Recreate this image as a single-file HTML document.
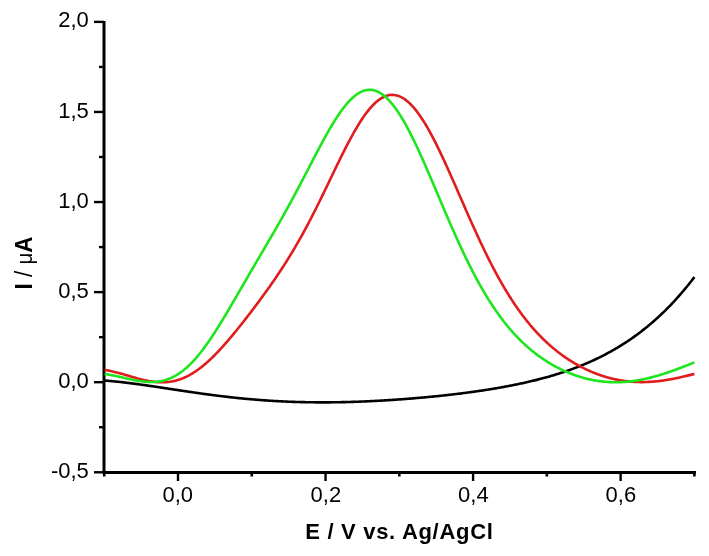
<!DOCTYPE html>
<html><head><meta charset="utf-8"><style>
html,body{margin:0;padding:0;background:#fff;}
svg{display:block;}
.t{stroke:#000;stroke-width:2.4;}
.tm{stroke:#000;stroke-width:2.6;}
.ax{stroke:#000;stroke-width:3;fill:none;}
text{font-family:"Liberation Sans",Arial,sans-serif;fill:#000;}
.yl{font-size:22px;text-anchor:end;}
.xl{font-size:22px;text-anchor:middle;}
.tt{font-size:22px;font-weight:bold;}
.c{fill:none;stroke-width:2.6;stroke-linejoin:round;stroke-linecap:butt;}
</style></head><body>
<svg width="709" height="556" viewBox="0 0 709 556">
<rect width="709" height="556" fill="#fff"/>
<line x1="94" y1="21.88" x2="104.0" y2="21.88" class="t"/>
<line x1="94" y1="111.96" x2="104.0" y2="111.96" class="t"/>
<line x1="94" y1="202.04" x2="104.0" y2="202.04" class="t"/>
<line x1="94" y1="292.12" x2="104.0" y2="292.12" class="t"/>
<line x1="94" y1="382.20" x2="104.0" y2="382.20" class="t"/>
<line x1="94" y1="472.28" x2="104.0" y2="472.28" class="t"/>
<line x1="99" y1="66.92" x2="104.0" y2="66.92" class="t"/>
<line x1="99" y1="157.00" x2="104.0" y2="157.00" class="t"/>
<line x1="99" y1="247.08" x2="104.0" y2="247.08" class="t"/>
<line x1="99" y1="337.16" x2="104.0" y2="337.16" class="t"/>
<line x1="99" y1="427.24" x2="104.0" y2="427.24" class="t"/>
<line x1="178.00" y1="472.4" x2="178.00" y2="481" class="t"/>
<line x1="325.54" y1="472.4" x2="325.54" y2="481" class="t"/>
<line x1="473.08" y1="472.4" x2="473.08" y2="481" class="t"/>
<line x1="620.62" y1="472.4" x2="620.62" y2="481" class="t"/>
<line x1="104.23" y1="472.4" x2="104.23" y2="476.5" class="tm"/>
<line x1="251.77" y1="472.4" x2="251.77" y2="476.5" class="tm"/>
<line x1="399.31" y1="472.4" x2="399.31" y2="476.5" class="tm"/>
<line x1="546.85" y1="472.4" x2="546.85" y2="476.5" class="tm"/>
<line x1="694.39" y1="472.4" x2="694.39" y2="476.5" class="tm"/>
<path class="ax" d="M104.0 21 L104.0 472.4 L696 472.4"/>
<text x="88.8" y="27.48" class="yl">2,0</text>
<text x="88.8" y="117.56" class="yl">1,5</text>
<text x="88.8" y="207.64" class="yl">1,0</text>
<text x="88.8" y="297.72" class="yl">0,5</text>
<text x="88.8" y="387.80" class="yl">0,0</text>
<text x="88.8" y="477.88" class="yl">-0,5</text>
<text x="177.80" y="502" class="xl">0,0</text>
<text x="325.84" y="502" class="xl">0,2</text>
<text x="473.38" y="502" class="xl">0,4</text>
<text x="620.92" y="502" class="xl">0,6</text>
<path class="c" stroke="#000" d="M104.6 380.59 L105.6 380.66 L106.6 380.73 L107.6 380.81 L108.6 380.89 L109.6 380.97 L110.6 381.06 L111.6 381.15 L112.6 381.24 L113.6 381.33 L114.6 381.43 L115.6 381.52 L116.6 381.62 L117.6 381.73 L118.6 381.83 L119.6 381.94 L120.6 382.05 L121.6 382.16 L122.6 382.27 L123.6 382.38 L124.6 382.50 L125.6 382.62 L126.6 382.73 L127.6 382.86 L128.6 382.98 L129.6 383.10 L130.6 383.23 L131.6 383.36 L132.6 383.48 L133.6 383.61 L134.6 383.75 L135.6 383.88 L136.6 384.01 L137.6 384.15 L138.6 384.28 L139.6 384.42 L140.6 384.56 L141.6 384.70 L142.6 384.84 L143.6 384.98 L144.6 385.12 L145.6 385.26 L146.6 385.41 L147.6 385.55 L148.6 385.70 L149.6 385.84 L150.6 385.99 L151.6 386.14 L152.6 386.28 L153.6 386.43 L154.6 386.58 L155.6 386.73 L156.6 386.88 L157.6 387.03 L158.6 387.18 L159.6 387.33 L160.6 387.48 L161.6 387.63 L162.6 387.78 L163.6 387.94 L164.6 388.09 L165.6 388.24 L166.6 388.39 L167.6 388.54 L168.6 388.70 L169.6 388.85 L170.6 389.00 L171.6 389.15 L172.6 389.31 L173.6 389.46 L174.6 389.61 L175.6 389.76 L176.6 389.91 L177.6 390.06 L178.6 390.22 L179.6 390.37 L180.6 390.52 L181.6 390.67 L182.6 390.82 L183.6 390.97 L184.6 391.12 L185.6 391.26 L186.6 391.41 L187.6 391.56 L188.6 391.71 L189.6 391.85 L190.6 392.00 L191.6 392.15 L192.6 392.29 L193.6 392.44 L194.6 392.58 L195.6 392.72 L196.6 392.87 L197.6 393.01 L198.6 393.15 L199.6 393.29 L200.6 393.43 L201.6 393.57 L202.6 393.71 L203.6 393.85 L204.6 393.99 L205.6 394.12 L206.6 394.26 L207.6 394.39 L208.6 394.53 L209.6 394.66 L210.6 394.79 L211.6 394.92 L212.6 395.05 L213.6 395.18 L214.6 395.31 L215.6 395.44 L216.6 395.57 L217.6 395.69 L218.6 395.82 L219.6 395.94 L220.6 396.06 L221.6 396.18 L222.6 396.30 L223.6 396.42 L224.6 396.54 L225.6 396.66 L226.6 396.78 L227.6 396.89 L228.6 397.01 L229.6 397.12 L230.6 397.23 L231.6 397.34 L232.6 397.45 L233.6 397.56 L234.6 397.67 L235.6 397.78 L236.6 397.88 L237.6 397.99 L238.6 398.09 L239.6 398.19 L240.6 398.29 L241.6 398.39 L242.6 398.49 L243.6 398.59 L244.6 398.68 L245.6 398.78 L246.6 398.87 L247.6 398.96 L248.6 399.06 L249.6 399.15 L250.6 399.23 L251.6 399.32 L252.6 399.41 L253.6 399.49 L254.6 399.58 L255.6 399.66 L256.6 399.74 L257.6 399.82 L258.6 399.90 L259.6 399.98 L260.6 400.05 L261.6 400.13 L262.6 400.20 L263.6 400.28 L264.6 400.35 L265.6 400.42 L266.6 400.49 L267.6 400.55 L268.6 400.62 L269.6 400.69 L270.6 400.75 L271.6 400.81 L272.6 400.87 L273.6 400.93 L274.6 400.99 L275.6 401.05 L276.6 401.10 L277.6 401.16 L278.6 401.21 L279.6 401.27 L280.6 401.32 L281.6 401.37 L282.6 401.42 L283.6 401.46 L284.6 401.51 L285.6 401.55 L286.6 401.60 L287.6 401.64 L288.6 401.68 L289.6 401.72 L290.6 401.76 L291.6 401.80 L292.6 401.83 L293.6 401.87 L294.6 401.90 L295.6 401.93 L296.6 401.97 L297.6 402.00 L298.6 402.02 L299.6 402.05 L300.6 402.08 L301.6 402.10 L302.6 402.13 L303.6 402.15 L304.6 402.17 L305.6 402.19 L306.6 402.21 L307.6 402.23 L308.6 402.25 L309.6 402.26 L310.6 402.28 L311.6 402.29 L312.6 402.30 L313.6 402.31 L314.6 402.32 L315.6 402.33 L316.6 402.34 L317.6 402.35 L318.6 402.35 L319.6 402.35 L320.6 402.36 L321.6 402.36 L322.6 402.36 L323.6 402.36 L324.6 402.36 L325.6 402.36 L326.6 402.35 L327.6 402.35 L328.6 402.34 L329.6 402.33 L330.6 402.33 L331.6 402.32 L332.6 402.31 L333.6 402.29 L334.6 402.28 L335.6 402.27 L336.6 402.25 L337.6 402.24 L338.6 402.22 L339.6 402.20 L340.6 402.19 L341.6 402.17 L342.6 402.15 L343.6 402.12 L344.6 402.10 L345.6 402.08 L346.6 402.05 L347.6 402.03 L348.6 402.00 L349.6 401.97 L350.6 401.94 L351.6 401.91 L352.6 401.88 L353.6 401.85 L354.6 401.82 L355.6 401.78 L356.6 401.75 L357.6 401.71 L358.6 401.68 L359.6 401.64 L360.6 401.60 L361.6 401.56 L362.6 401.52 L363.6 401.48 L364.6 401.44 L365.6 401.40 L366.6 401.35 L367.6 401.31 L368.6 401.26 L369.6 401.22 L370.6 401.17 L371.6 401.12 L372.6 401.07 L373.6 401.02 L374.6 400.97 L375.6 400.92 L376.6 400.87 L377.6 400.81 L378.6 400.76 L379.6 400.70 L380.6 400.65 L381.6 400.59 L382.6 400.53 L383.6 400.47 L384.6 400.41 L385.6 400.35 L386.6 400.29 L387.6 400.23 L388.6 400.17 L389.6 400.10 L390.6 400.04 L391.6 399.97 L392.6 399.91 L393.6 399.84 L394.6 399.77 L395.6 399.70 L396.6 399.63 L397.6 399.56 L398.6 399.49 L399.6 399.42 L400.6 399.35 L401.6 399.27 L402.6 399.20 L403.6 399.12 L404.6 399.05 L405.6 398.97 L406.6 398.89 L407.6 398.82 L408.6 398.74 L409.6 398.66 L410.6 398.58 L411.6 398.49 L412.6 398.41 L413.6 398.33 L414.6 398.24 L415.6 398.16 L416.6 398.07 L417.6 397.99 L418.6 397.90 L419.6 397.81 L420.6 397.72 L421.6 397.63 L422.6 397.54 L423.6 397.45 L424.6 397.36 L425.6 397.27 L426.6 397.17 L427.6 397.08 L428.6 396.98 L429.6 396.89 L430.6 396.79 L431.6 396.69 L432.6 396.59 L433.6 396.49 L434.6 396.39 L435.6 396.29 L436.6 396.19 L437.6 396.09 L438.6 395.98 L439.6 395.88 L440.6 395.77 L441.6 395.67 L442.6 395.56 L443.6 395.45 L444.6 395.34 L445.6 395.23 L446.6 395.12 L447.6 395.01 L448.6 394.89 L449.6 394.78 L450.6 394.67 L451.6 394.55 L452.6 394.43 L453.6 394.31 L454.6 394.20 L455.6 394.08 L456.6 393.96 L457.6 393.83 L458.6 393.71 L459.6 393.59 L460.6 393.46 L461.6 393.34 L462.6 393.21 L463.6 393.08 L464.6 392.95 L465.6 392.82 L466.6 392.69 L467.6 392.56 L468.6 392.43 L469.6 392.29 L470.6 392.16 L471.6 392.02 L472.6 391.88 L473.6 391.74 L474.6 391.60 L475.6 391.46 L476.6 391.32 L477.6 391.18 L478.6 391.03 L479.6 390.88 L480.6 390.74 L481.6 390.59 L482.6 390.44 L483.6 390.29 L484.6 390.13 L485.6 389.98 L486.6 389.82 L487.6 389.67 L488.6 389.51 L489.6 389.35 L490.6 389.19 L491.6 389.02 L492.6 388.86 L493.6 388.70 L494.6 388.53 L495.6 388.36 L496.6 388.19 L497.6 388.02 L498.6 387.84 L499.6 387.67 L500.6 387.49 L501.6 387.32 L502.6 387.14 L503.6 386.95 L504.6 386.77 L505.6 386.59 L506.6 386.40 L507.6 386.21 L508.6 386.02 L509.6 385.83 L510.6 385.64 L511.6 385.44 L512.6 385.24 L513.6 385.04 L514.6 384.84 L515.6 384.64 L516.6 384.43 L517.6 384.23 L518.6 384.02 L519.6 383.81 L520.6 383.59 L521.6 383.38 L522.6 383.16 L523.6 382.94 L524.6 382.72 L525.6 382.49 L526.6 382.27 L527.6 382.04 L528.6 381.81 L529.6 381.58 L530.6 381.34 L531.6 381.10 L532.6 380.86 L533.6 380.62 L534.6 380.37 L535.6 380.13 L536.6 379.88 L537.6 379.62 L538.6 379.37 L539.6 379.11 L540.6 378.85 L541.6 378.58 L542.6 378.32 L543.6 378.05 L544.6 377.78 L545.6 377.50 L546.6 377.23 L547.6 376.95 L548.6 376.66 L549.6 376.38 L550.6 376.09 L551.6 375.79 L552.6 375.50 L553.6 375.20 L554.6 374.90 L555.6 374.59 L556.6 374.28 L557.6 373.97 L558.6 373.66 L559.6 373.34 L560.6 373.02 L561.6 372.69 L562.6 372.36 L563.6 372.03 L564.6 371.70 L565.6 371.36 L566.6 371.01 L567.6 370.67 L568.6 370.32 L569.6 369.96 L570.6 369.60 L571.6 369.24 L572.6 368.88 L573.6 368.51 L574.6 368.13 L575.6 367.75 L576.6 367.37 L577.6 366.99 L578.6 366.60 L579.6 366.20 L580.6 365.80 L581.6 365.40 L582.6 364.99 L583.6 364.58 L584.6 364.16 L585.6 363.74 L586.6 363.32 L587.6 362.89 L588.6 362.45 L589.6 362.01 L590.6 361.57 L591.6 361.12 L592.6 360.66 L593.6 360.20 L594.6 359.74 L595.6 359.27 L596.6 358.80 L597.6 358.32 L598.6 357.83 L599.6 357.34 L600.6 356.85 L601.6 356.35 L602.6 355.84 L603.6 355.33 L604.6 354.81 L605.6 354.29 L606.6 353.76 L607.6 353.22 L608.6 352.68 L609.6 352.14 L610.6 351.59 L611.6 351.03 L612.6 350.46 L613.6 349.89 L614.6 349.32 L615.6 348.73 L616.6 348.14 L617.6 347.55 L618.6 346.95 L619.6 346.34 L620.6 345.72 L621.6 345.10 L622.6 344.47 L623.6 343.84 L624.6 343.20 L625.6 342.55 L626.6 341.89 L627.6 341.23 L628.6 340.56 L629.6 339.88 L630.6 339.20 L631.6 338.51 L632.6 337.81 L633.6 337.10 L634.6 336.39 L635.6 335.67 L636.6 334.94 L637.6 334.20 L638.6 333.46 L639.6 332.71 L640.6 331.94 L641.6 331.18 L642.6 330.40 L643.6 329.61 L644.6 328.82 L645.6 328.02 L646.6 327.21 L647.6 326.39 L648.6 325.56 L649.6 324.73 L650.6 323.88 L651.6 323.03 L652.6 322.17 L653.6 321.30 L654.6 320.42 L655.6 319.53 L656.6 318.63 L657.6 317.72 L658.6 316.81 L659.6 315.88 L660.6 314.94 L661.6 314.00 L662.6 313.04 L663.6 312.08 L664.6 311.10 L665.6 310.12 L666.6 309.12 L667.6 308.11 L668.6 307.10 L669.6 306.07 L670.6 305.04 L671.6 303.99 L672.6 302.93 L673.6 301.86 L674.6 300.78 L675.6 299.69 L676.6 298.59 L677.6 297.48 L678.6 296.36 L679.6 295.22 L680.6 294.08 L681.6 292.92 L682.6 291.75 L683.6 290.57 L684.6 289.38 L685.6 288.18 L686.6 286.96 L687.6 285.73 L688.6 284.49 L689.6 283.24 L690.6 281.97 L691.6 280.70 L692.6 279.41 L693.6 278.11 L694.4 277.06"/>
<path class="c" stroke="#e01c1c" d="M104.6 369.86 L105.6 370.02 L106.6 370.19 L107.6 370.37 L108.6 370.56 L109.6 370.77 L110.6 370.98 L111.6 371.20 L112.6 371.42 L113.6 371.66 L114.6 371.91 L115.6 372.16 L116.6 372.41 L117.6 372.68 L118.6 372.95 L119.6 373.22 L120.6 373.50 L121.6 373.78 L122.6 374.07 L123.6 374.36 L124.6 374.65 L125.6 374.94 L126.6 375.24 L127.6 375.53 L128.6 375.83 L129.6 376.12 L130.6 376.42 L131.6 376.71 L132.6 377.00 L133.6 377.29 L134.6 377.58 L135.6 377.86 L136.6 378.14 L137.6 378.42 L138.6 378.68 L139.6 378.95 L140.6 379.21 L141.6 379.46 L142.6 379.70 L143.6 379.94 L144.6 380.17 L145.6 380.39 L146.6 380.60 L147.6 380.80 L148.6 380.99 L149.6 381.17 L150.6 381.33 L151.6 381.49 L152.6 381.64 L153.6 381.77 L154.6 381.89 L155.6 381.99 L156.6 382.08 L157.6 382.16 L158.6 382.22 L159.6 382.27 L160.6 382.30 L161.6 382.31 L162.6 382.31 L163.6 382.29 L164.6 382.26 L165.6 382.21 L166.6 382.13 L167.6 382.04 L168.6 381.94 L169.6 381.81 L170.6 381.67 L171.6 381.50 L172.6 381.32 L173.6 381.11 L174.6 380.89 L175.6 380.64 L176.6 380.38 L177.6 380.09 L178.6 379.79 L179.6 379.46 L180.6 379.11 L181.6 378.74 L182.6 378.35 L183.6 377.94 L184.6 377.51 L185.6 377.06 L186.6 376.58 L187.6 376.09 L188.6 375.57 L189.6 375.03 L190.6 374.47 L191.6 373.89 L192.6 373.29 L193.6 372.67 L194.6 372.03 L195.6 371.37 L196.6 370.68 L197.6 369.98 L198.6 369.26 L199.6 368.52 L200.6 367.76 L201.6 366.97 L202.6 366.18 L203.6 365.36 L204.6 364.52 L205.6 363.67 L206.6 362.79 L207.6 361.90 L208.6 361.00 L209.6 360.07 L210.6 359.13 L211.6 358.18 L212.6 357.21 L213.6 356.22 L214.6 355.22 L215.6 354.20 L216.6 353.17 L217.6 352.13 L218.6 351.07 L219.6 350.01 L220.6 348.92 L221.6 347.83 L222.6 346.72 L223.6 345.61 L224.6 344.48 L225.6 343.34 L226.6 342.19 L227.6 341.03 L228.6 339.87 L229.6 338.69 L230.6 337.50 L231.6 336.31 L232.6 335.11 L233.6 333.90 L234.6 332.68 L235.6 331.46 L236.6 330.23 L237.6 328.99 L238.6 327.74 L239.6 326.49 L240.6 325.24 L241.6 323.98 L242.6 322.71 L243.6 321.44 L244.6 320.16 L245.6 318.88 L246.6 317.59 L247.6 316.30 L248.6 315.00 L249.6 313.70 L250.6 312.40 L251.6 311.09 L252.6 309.77 L253.6 308.45 L254.6 307.13 L255.6 305.80 L256.6 304.47 L257.6 303.13 L258.6 301.78 L259.6 300.44 L260.6 299.08 L261.6 297.72 L262.6 296.36 L263.6 294.99 L264.6 293.61 L265.6 292.23 L266.6 290.84 L267.6 289.44 L268.6 288.04 L269.6 286.63 L270.6 285.21 L271.6 283.79 L272.6 282.35 L273.6 280.91 L274.6 279.46 L275.6 278.00 L276.6 276.53 L277.6 275.05 L278.6 273.56 L279.6 272.06 L280.6 270.55 L281.6 269.03 L282.6 267.50 L283.6 265.96 L284.6 264.40 L285.6 262.83 L286.6 261.25 L287.6 259.66 L288.6 258.05 L289.6 256.43 L290.6 254.80 L291.6 253.15 L292.6 251.49 L293.6 249.81 L294.6 248.12 L295.6 246.42 L296.6 244.70 L297.6 242.96 L298.6 241.21 L299.6 239.45 L300.6 237.67 L301.6 235.88 L302.6 234.07 L303.6 232.25 L304.6 230.41 L305.6 228.56 L306.6 226.69 L307.6 224.81 L308.6 222.92 L309.6 221.01 L310.6 219.09 L311.6 217.15 L312.6 215.20 L313.6 213.24 L314.6 211.27 L315.6 209.29 L316.6 207.29 L317.6 205.29 L318.6 203.27 L319.6 201.24 L320.6 199.21 L321.6 197.17 L322.6 195.12 L323.6 193.06 L324.6 191.00 L325.6 188.93 L326.6 186.86 L327.6 184.78 L328.6 182.71 L329.6 180.63 L330.6 178.55 L331.6 176.47 L332.6 174.39 L333.6 172.31 L334.6 170.24 L335.6 168.17 L336.6 166.10 L337.6 164.05 L338.6 162.00 L339.6 159.96 L340.6 157.92 L341.6 155.91 L342.6 153.90 L343.6 151.90 L344.6 149.93 L345.6 147.96 L346.6 146.02 L347.6 144.09 L348.6 142.18 L349.6 140.30 L350.6 138.43 L351.6 136.59 L352.6 134.78 L353.6 132.99 L354.6 131.23 L355.6 129.49 L356.6 127.79 L357.6 126.11 L358.6 124.47 L359.6 122.86 L360.6 121.29 L361.6 119.75 L362.6 118.25 L363.6 116.79 L364.6 115.37 L365.6 113.98 L366.6 112.64 L367.6 111.34 L368.6 110.08 L369.6 108.87 L370.6 107.70 L371.6 106.58 L372.6 105.50 L373.6 104.47 L374.6 103.50 L375.6 102.57 L376.6 101.69 L377.6 100.86 L378.6 100.08 L379.6 99.36 L380.6 98.68 L381.6 98.06 L382.6 97.50 L383.6 96.99 L384.6 96.53 L385.6 96.13 L386.6 95.78 L387.6 95.49 L388.6 95.26 L389.6 95.08 L390.6 94.96 L391.6 94.89 L392.6 94.89 L393.6 94.93 L394.6 95.04 L395.6 95.20 L396.6 95.42 L397.6 95.69 L398.6 96.02 L399.6 96.41 L400.6 96.85 L401.6 97.35 L402.6 97.90 L403.6 98.51 L404.6 99.17 L405.6 99.89 L406.6 100.66 L407.6 101.48 L408.6 102.35 L409.6 103.28 L410.6 104.26 L411.6 105.29 L412.6 106.37 L413.6 107.49 L414.6 108.67 L415.6 109.89 L416.6 111.16 L417.6 112.47 L418.6 113.83 L419.6 115.24 L420.6 116.69 L421.6 118.18 L422.6 119.71 L423.6 121.28 L424.6 122.89 L425.6 124.54 L426.6 126.22 L427.6 127.94 L428.6 129.70 L429.6 131.49 L430.6 133.31 L431.6 135.17 L432.6 137.06 L433.6 138.97 L434.6 140.91 L435.6 142.89 L436.6 144.88 L437.6 146.91 L438.6 148.95 L439.6 151.02 L440.6 153.11 L441.6 155.22 L442.6 157.35 L443.6 159.50 L444.6 161.66 L445.6 163.85 L446.6 166.04 L447.6 168.25 L448.6 170.47 L449.6 172.71 L450.6 174.95 L451.6 177.20 L452.6 179.46 L453.6 181.73 L454.6 184.01 L455.6 186.29 L456.6 188.57 L457.6 190.86 L458.6 193.15 L459.6 195.44 L460.6 197.73 L461.6 200.02 L462.6 202.31 L463.6 204.59 L464.6 206.88 L465.6 209.16 L466.6 211.43 L467.6 213.70 L468.6 215.96 L469.6 218.21 L470.6 220.46 L471.6 222.70 L472.6 224.93 L473.6 227.14 L474.6 229.35 L475.6 231.55 L476.6 233.73 L477.6 235.90 L478.6 238.06 L479.6 240.21 L480.6 242.34 L481.6 244.46 L482.6 246.56 L483.6 248.64 L484.6 250.71 L485.6 252.77 L486.6 254.80 L487.6 256.82 L488.6 258.83 L489.6 260.81 L490.6 262.78 L491.6 264.73 L492.6 266.66 L493.6 268.57 L494.6 270.46 L495.6 272.34 L496.6 274.19 L497.6 276.03 L498.6 277.84 L499.6 279.64 L500.6 281.41 L501.6 283.17 L502.6 284.90 L503.6 286.62 L504.6 288.31 L505.6 289.99 L506.6 291.64 L507.6 293.28 L508.6 294.89 L509.6 296.49 L510.6 298.06 L511.6 299.61 L512.6 301.15 L513.6 302.66 L514.6 304.16 L515.6 305.63 L516.6 307.09 L517.6 308.52 L518.6 309.94 L519.6 311.33 L520.6 312.71 L521.6 314.07 L522.6 315.41 L523.6 316.73 L524.6 318.03 L525.6 319.31 L526.6 320.58 L527.6 321.82 L528.6 323.05 L529.6 324.26 L530.6 325.46 L531.6 326.63 L532.6 327.79 L533.6 328.93 L534.6 330.06 L535.6 331.17 L536.6 332.26 L537.6 333.33 L538.6 334.39 L539.6 335.43 L540.6 336.46 L541.6 337.47 L542.6 338.47 L543.6 339.45 L544.6 340.42 L545.6 341.37 L546.6 342.31 L547.6 343.23 L548.6 344.14 L549.6 345.03 L550.6 345.91 L551.6 346.78 L552.6 347.63 L553.6 348.47 L554.6 349.30 L555.6 350.11 L556.6 350.91 L557.6 351.70 L558.6 352.47 L559.6 353.24 L560.6 353.99 L561.6 354.72 L562.6 355.45 L563.6 356.17 L564.6 356.87 L565.6 357.56 L566.6 358.24 L567.6 358.91 L568.6 359.57 L569.6 360.21 L570.6 360.85 L571.6 361.47 L572.6 362.09 L573.6 362.69 L574.6 363.28 L575.6 363.87 L576.6 364.44 L577.6 365.00 L578.6 365.55 L579.6 366.09 L580.6 366.62 L581.6 367.15 L582.6 367.66 L583.6 368.16 L584.6 368.65 L585.6 369.14 L586.6 369.61 L587.6 370.07 L588.6 370.53 L589.6 370.97 L590.6 371.41 L591.6 371.83 L592.6 372.25 L593.6 372.66 L594.6 373.06 L595.6 373.45 L596.6 373.83 L597.6 374.20 L598.6 374.56 L599.6 374.91 L600.6 375.26 L601.6 375.60 L602.6 375.92 L603.6 376.24 L604.6 376.55 L605.6 376.85 L606.6 377.14 L607.6 377.43 L608.6 377.70 L609.6 377.97 L610.6 378.22 L611.6 378.47 L612.6 378.71 L613.6 378.94 L614.6 379.17 L615.6 379.38 L616.6 379.59 L617.6 379.79 L618.6 379.98 L619.6 380.16 L620.6 380.33 L621.6 380.49 L622.6 380.65 L623.6 380.80 L624.6 380.94 L625.6 381.07 L626.6 381.19 L627.6 381.31 L628.6 381.41 L629.6 381.51 L630.6 381.60 L631.6 381.69 L632.6 381.76 L633.6 381.83 L634.6 381.89 L635.6 381.94 L636.6 381.98 L637.6 382.02 L638.6 382.05 L639.6 382.07 L640.6 382.08 L641.6 382.09 L642.6 382.09 L643.6 382.08 L644.6 382.06 L645.6 382.04 L646.6 382.00 L647.6 381.97 L648.6 381.92 L649.6 381.87 L650.6 381.81 L651.6 381.74 L652.6 381.67 L653.6 381.59 L654.6 381.50 L655.6 381.41 L656.6 381.31 L657.6 381.21 L658.6 381.10 L659.6 380.98 L660.6 380.85 L661.6 380.72 L662.6 380.59 L663.6 380.45 L664.6 380.30 L665.6 380.15 L666.6 379.99 L667.6 379.82 L668.6 379.65 L669.6 379.48 L670.6 379.30 L671.6 379.12 L672.6 378.93 L673.6 378.74 L674.6 378.54 L675.6 378.34 L676.6 378.13 L677.6 377.92 L678.6 377.71 L679.6 377.49 L680.6 377.27 L681.6 377.04 L682.6 376.81 L683.6 376.58 L684.6 376.34 L685.6 376.11 L686.6 375.87 L687.6 375.62 L688.6 375.38 L689.6 375.13 L690.6 374.88 L691.6 374.63 L692.6 374.38 L693.6 374.12 L694.4 373.92"/>
<path class="c" stroke="#1ee61e" d="M104.6 373.98 L105.6 374.13 L106.6 374.28 L107.6 374.45 L108.6 374.62 L109.6 374.79 L110.6 374.98 L111.6 375.17 L112.6 375.36 L113.6 375.56 L114.6 375.77 L115.6 375.98 L116.6 376.19 L117.6 376.41 L118.6 376.63 L119.6 376.86 L120.6 377.08 L121.6 377.31 L122.6 377.53 L123.6 377.76 L124.6 377.99 L125.6 378.22 L126.6 378.44 L127.6 378.67 L128.6 378.89 L129.6 379.11 L130.6 379.33 L131.6 379.54 L132.6 379.75 L133.6 379.95 L134.6 380.15 L135.6 380.34 L136.6 380.52 L137.6 380.70 L138.6 380.86 L139.6 381.02 L140.6 381.17 L141.6 381.31 L142.6 381.44 L143.6 381.55 L144.6 381.66 L145.6 381.75 L146.6 381.83 L147.6 381.89 L148.6 381.94 L149.6 381.98 L150.6 382.00 L151.6 382.00 L152.6 381.98 L153.6 381.95 L154.6 381.90 L155.6 381.83 L156.6 381.74 L157.6 381.63 L158.6 381.50 L159.6 381.35 L160.6 381.18 L161.6 380.98 L162.6 380.77 L163.6 380.52 L164.6 380.26 L165.6 379.97 L166.6 379.65 L167.6 379.32 L168.6 378.95 L169.6 378.56 L170.6 378.14 L171.6 377.70 L172.6 377.22 L173.6 376.72 L174.6 376.20 L175.6 375.64 L176.6 375.06 L177.6 374.45 L178.6 373.81 L179.6 373.14 L180.6 372.44 L181.6 371.72 L182.6 370.96 L183.6 370.18 L184.6 369.36 L185.6 368.52 L186.6 367.65 L187.6 366.75 L188.6 365.82 L189.6 364.86 L190.6 363.88 L191.6 362.86 L192.6 361.82 L193.6 360.75 L194.6 359.65 L195.6 358.53 L196.6 357.38 L197.6 356.20 L198.6 355.00 L199.6 353.77 L200.6 352.51 L201.6 351.24 L202.6 349.94 L203.6 348.61 L204.6 347.26 L205.6 345.89 L206.6 344.50 L207.6 343.09 L208.6 341.65 L209.6 340.20 L210.6 338.73 L211.6 337.24 L212.6 335.73 L213.6 334.21 L214.6 332.67 L215.6 331.11 L216.6 329.54 L217.6 327.95 L218.6 326.35 L219.6 324.74 L220.6 323.12 L221.6 321.49 L222.6 319.84 L223.6 318.19 L224.6 316.52 L225.6 314.85 L226.6 313.17 L227.6 311.48 L228.6 309.79 L229.6 308.09 L230.6 306.39 L231.6 304.68 L232.6 302.97 L233.6 301.25 L234.6 299.53 L235.6 297.81 L236.6 296.09 L237.6 294.36 L238.6 292.64 L239.6 290.91 L240.6 289.18 L241.6 287.45 L242.6 285.73 L243.6 284.00 L244.6 282.28 L245.6 280.55 L246.6 278.83 L247.6 277.11 L248.6 275.38 L249.6 273.66 L250.6 271.95 L251.6 270.23 L252.6 268.52 L253.6 266.80 L254.6 265.09 L255.6 263.38 L256.6 261.67 L257.6 259.96 L258.6 258.25 L259.6 256.55 L260.6 254.84 L261.6 253.13 L262.6 251.43 L263.6 249.72 L264.6 248.01 L265.6 246.30 L266.6 244.59 L267.6 242.88 L268.6 241.17 L269.6 239.45 L270.6 237.74 L271.6 236.01 L272.6 234.29 L273.6 232.56 L274.6 230.83 L275.6 229.09 L276.6 227.35 L277.6 225.61 L278.6 223.86 L279.6 222.10 L280.6 220.34 L281.6 218.57 L282.6 216.79 L283.6 215.01 L284.6 213.22 L285.6 211.43 L286.6 209.62 L287.6 207.81 L288.6 206.00 L289.6 204.17 L290.6 202.34 L291.6 200.50 L292.6 198.66 L293.6 196.80 L294.6 194.94 L295.6 193.07 L296.6 191.20 L297.6 189.32 L298.6 187.43 L299.6 185.54 L300.6 183.64 L301.6 181.74 L302.6 179.83 L303.6 177.91 L304.6 176.00 L305.6 174.08 L306.6 172.16 L307.6 170.23 L308.6 168.31 L309.6 166.38 L310.6 164.46 L311.6 162.53 L312.6 160.61 L313.6 158.69 L314.6 156.77 L315.6 154.86 L316.6 152.96 L317.6 151.06 L318.6 149.16 L319.6 147.28 L320.6 145.41 L321.6 143.55 L322.6 141.70 L323.6 139.86 L324.6 138.03 L325.6 136.23 L326.6 134.44 L327.6 132.66 L328.6 130.91 L329.6 129.18 L330.6 127.46 L331.6 125.78 L332.6 124.11 L333.6 122.47 L334.6 120.86 L335.6 119.27 L336.6 117.72 L337.6 116.19 L338.6 114.70 L339.6 113.24 L340.6 111.81 L341.6 110.42 L342.6 109.07 L343.6 107.75 L344.6 106.47 L345.6 105.23 L346.6 104.03 L347.6 102.88 L348.6 101.77 L349.6 100.70 L350.6 99.67 L351.6 98.70 L352.6 97.77 L353.6 96.88 L354.6 96.05 L355.6 95.26 L356.6 94.53 L357.6 93.85 L358.6 93.21 L359.6 92.63 L360.6 92.11 L361.6 91.63 L362.6 91.22 L363.6 90.85 L364.6 90.54 L365.6 90.29 L366.6 90.09 L367.6 89.95 L368.6 89.86 L369.6 89.83 L370.6 89.85 L371.6 89.94 L372.6 90.08 L373.6 90.27 L374.6 90.53 L375.6 90.84 L376.6 91.21 L377.6 91.63 L378.6 92.11 L379.6 92.64 L380.6 93.23 L381.6 93.88 L382.6 94.58 L383.6 95.34 L384.6 96.15 L385.6 97.01 L386.6 97.93 L387.6 98.90 L388.6 99.92 L389.6 100.99 L390.6 102.12 L391.6 103.29 L392.6 104.51 L393.6 105.78 L394.6 107.10 L395.6 108.46 L396.6 109.87 L397.6 111.33 L398.6 112.83 L399.6 114.37 L400.6 115.95 L401.6 117.58 L402.6 119.25 L403.6 120.95 L404.6 122.69 L405.6 124.47 L406.6 126.29 L407.6 128.14 L408.6 130.02 L409.6 131.94 L410.6 133.88 L411.6 135.86 L412.6 137.87 L413.6 139.90 L414.6 141.96 L415.6 144.05 L416.6 146.16 L417.6 148.30 L418.6 150.45 L419.6 152.63 L420.6 154.83 L421.6 157.04 L422.6 159.28 L423.6 161.53 L424.6 163.79 L425.6 166.07 L426.6 168.36 L427.6 170.66 L428.6 172.98 L429.6 175.30 L430.6 177.63 L431.6 179.97 L432.6 182.31 L433.6 184.66 L434.6 187.02 L435.6 189.38 L436.6 191.74 L437.6 194.10 L438.6 196.46 L439.6 198.82 L440.6 201.18 L441.6 203.53 L442.6 205.89 L443.6 208.24 L444.6 210.58 L445.6 212.92 L446.6 215.25 L447.6 217.57 L448.6 219.88 L449.6 222.19 L450.6 224.48 L451.6 226.77 L452.6 229.04 L453.6 231.30 L454.6 233.55 L455.6 235.79 L456.6 238.01 L457.6 240.22 L458.6 242.41 L459.6 244.59 L460.6 246.75 L461.6 248.90 L462.6 251.03 L463.6 253.14 L464.6 255.24 L465.6 257.31 L466.6 259.37 L467.6 261.41 L468.6 263.43 L469.6 265.43 L470.6 267.42 L471.6 269.38 L472.6 271.32 L473.6 273.25 L474.6 275.15 L475.6 277.03 L476.6 278.89 L477.6 280.73 L478.6 282.55 L479.6 284.35 L480.6 286.13 L481.6 287.88 L482.6 289.62 L483.6 291.33 L484.6 293.02 L485.6 294.70 L486.6 296.34 L487.6 297.97 L488.6 299.58 L489.6 301.17 L490.6 302.73 L491.6 304.28 L492.6 305.80 L493.6 307.30 L494.6 308.78 L495.6 310.24 L496.6 311.68 L497.6 313.10 L498.6 314.50 L499.6 315.88 L500.6 317.24 L501.6 318.57 L502.6 319.89 L503.6 321.19 L504.6 322.47 L505.6 323.73 L506.6 324.97 L507.6 326.20 L508.6 327.40 L509.6 328.59 L510.6 329.76 L511.6 330.90 L512.6 332.04 L513.6 333.15 L514.6 334.25 L515.6 335.33 L516.6 336.39 L517.6 337.43 L518.6 338.46 L519.6 339.47 L520.6 340.47 L521.6 341.45 L522.6 342.42 L523.6 343.36 L524.6 344.30 L525.6 345.22 L526.6 346.12 L527.6 347.01 L528.6 347.88 L529.6 348.74 L530.6 349.59 L531.6 350.42 L532.6 351.23 L533.6 352.04 L534.6 352.83 L535.6 353.61 L536.6 354.37 L537.6 355.12 L538.6 355.86 L539.6 356.59 L540.6 357.30 L541.6 358.00 L542.6 358.69 L543.6 359.37 L544.6 360.03 L545.6 360.69 L546.6 361.33 L547.6 361.96 L548.6 362.58 L549.6 363.19 L550.6 363.78 L551.6 364.37 L552.6 364.94 L553.6 365.51 L554.6 366.06 L555.6 366.61 L556.6 367.14 L557.6 367.66 L558.6 368.18 L559.6 368.68 L560.6 369.17 L561.6 369.65 L562.6 370.13 L563.6 370.59 L564.6 371.04 L565.6 371.49 L566.6 371.92 L567.6 372.35 L568.6 372.76 L569.6 373.17 L570.6 373.56 L571.6 373.95 L572.6 374.33 L573.6 374.70 L574.6 375.06 L575.6 375.41 L576.6 375.75 L577.6 376.08 L578.6 376.40 L579.6 376.72 L580.6 377.02 L581.6 377.32 L582.6 377.61 L583.6 377.89 L584.6 378.16 L585.6 378.42 L586.6 378.67 L587.6 378.91 L588.6 379.15 L589.6 379.37 L590.6 379.59 L591.6 379.80 L592.6 380.00 L593.6 380.19 L594.6 380.37 L595.6 380.55 L596.6 380.71 L597.6 380.87 L598.6 381.02 L599.6 381.16 L600.6 381.29 L601.6 381.41 L602.6 381.52 L603.6 381.63 L604.6 381.73 L605.6 381.81 L606.6 381.90 L607.6 381.97 L608.6 382.03 L609.6 382.09 L610.6 382.13 L611.6 382.17 L612.6 382.20 L613.6 382.22 L614.6 382.24 L615.6 382.24 L616.6 382.24 L617.6 382.23 L618.6 382.21 L619.6 382.18 L620.6 382.15 L621.6 382.11 L622.6 382.06 L623.6 382.00 L624.6 381.93 L625.6 381.86 L626.6 381.77 L627.6 381.68 L628.6 381.59 L629.6 381.48 L630.6 381.37 L631.6 381.25 L632.6 381.12 L633.6 380.99 L634.6 380.84 L635.6 380.69 L636.6 380.54 L637.6 380.37 L638.6 380.20 L639.6 380.02 L640.6 379.84 L641.6 379.65 L642.6 379.45 L643.6 379.24 L644.6 379.03 L645.6 378.81 L646.6 378.59 L647.6 378.36 L648.6 378.12 L649.6 377.87 L650.6 377.62 L651.6 377.37 L652.6 377.11 L653.6 376.84 L654.6 376.56 L655.6 376.29 L656.6 376.00 L657.6 375.71 L658.6 375.42 L659.6 375.12 L660.6 374.81 L661.6 374.50 L662.6 374.18 L663.6 373.87 L664.6 373.54 L665.6 373.21 L666.6 372.88 L667.6 372.54 L668.6 372.20 L669.6 371.85 L670.6 371.50 L671.6 371.15 L672.6 370.80 L673.6 370.44 L674.6 370.07 L675.6 369.71 L676.6 369.34 L677.6 368.96 L678.6 368.59 L679.6 368.21 L680.6 367.83 L681.6 367.45 L682.6 367.06 L683.6 366.68 L684.6 366.29 L685.6 365.90 L686.6 365.51 L687.6 365.12 L688.6 364.72 L689.6 364.33 L690.6 363.93 L691.6 363.54 L692.6 363.14 L693.6 362.74 L694.4 362.42"/>
<text class="tt" x="399.4" y="538.8" text-anchor="middle" style="letter-spacing:0.7px">E / V vs. Ag/AgCl</text>
<text class="tt" transform="translate(31.9 263.0) rotate(-90) scale(1.02 1.1)" text-anchor="middle">I <tspan font-weight="normal">/ <tspan font-size="20">&#956;</tspan></tspan>A</text>
</svg>
</body></html>
